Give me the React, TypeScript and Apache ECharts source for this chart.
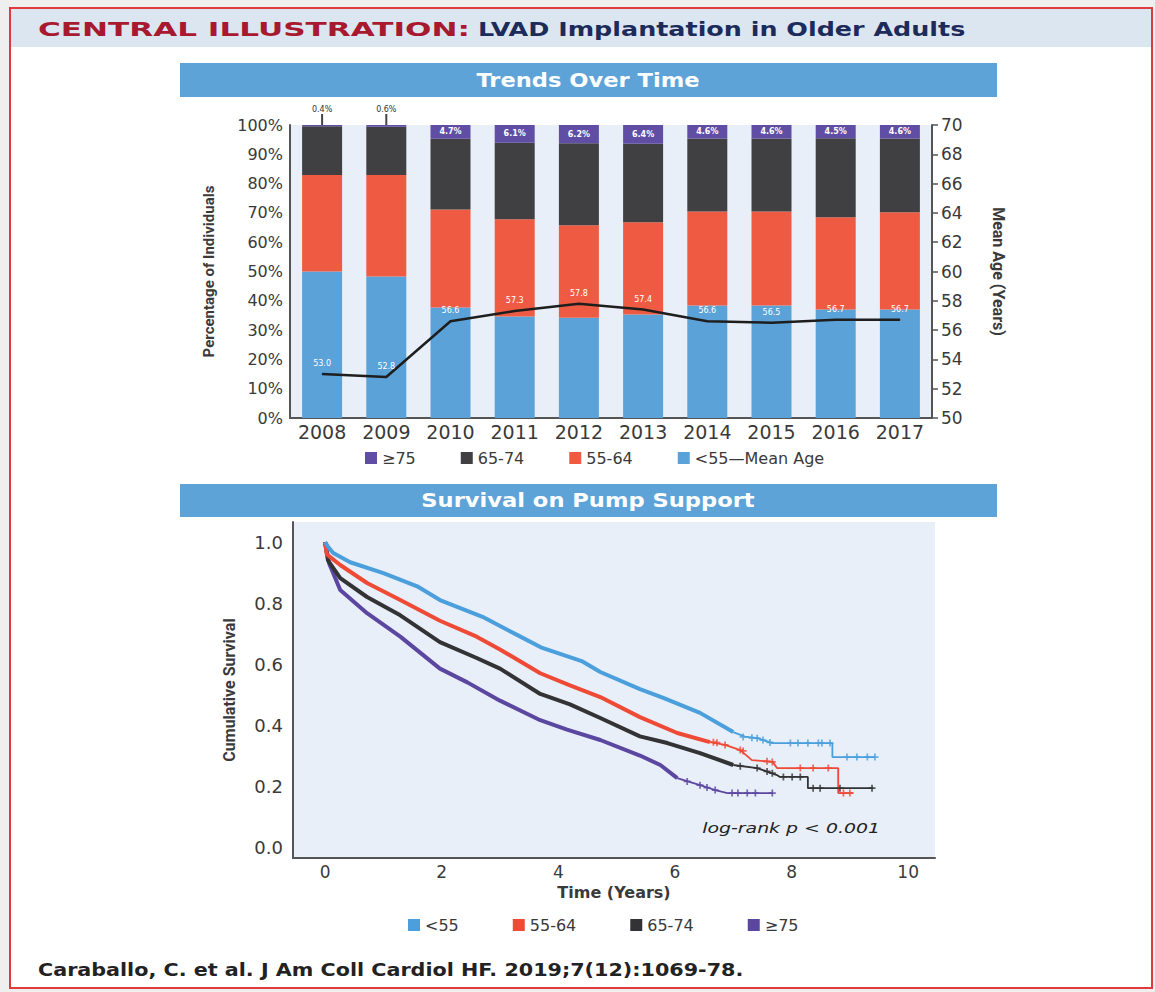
import React, { useEffect, useRef } from 'react';
import * as echarts from 'echarts';

// ---------- Trends Over Time ----------
const years = ['2008', '2009', '2010', '2011', '2012', '2013', '2014', '2015', '2016', '2017'];
const pctUnder55 = [50.0, 48.3, 37.7, 34.6, 34.2, 35.3, 38.4, 38.4, 37.0, 37.0];
const pct55to64 = [32.9, 34.6, 33.5, 33.2, 31.6, 31.5, 32.1, 32.1, 31.5, 33.2];
const pct65to74 = [16.7, 16.5, 24.1, 26.1, 28.0, 26.8, 24.9, 24.9, 27.0, 25.2];
const pct75plus = [0.4, 0.6, 4.7, 6.1, 6.2, 6.4, 4.6, 4.6, 4.5, 4.6];
const meanAge = [53.0, 52.8, 56.6, 57.3, 57.8, 57.4, 56.6, 56.5, 56.7, 56.7];
const pctTicks = [0, 10, 20, 30, 40, 50, 60, 70, 80, 90, 100];

// ---------- Survival on Pump Support (t in years, cumulative survival) ----------
const survUnder55 = [[0, 1], [0.05, 0.985], [0.14, 0.964], [0.43, 0.934], [1.0, 0.898], [1.58, 0.855], [1.97, 0.81], [2.7, 0.755], [3.3, 0.695], [3.7, 0.655], [4.4, 0.61], [4.72, 0.574], [5.4, 0.518], [5.8, 0.489], [6.43, 0.44], [7.0, 0.377]];
const tailUnder55 = [[7.0, 0.377], [7.2, 0.362], [7.41, 0.357], [7.67, 0.341], [8.7, 0.341], [8.7, 0.295], [9.43, 0.295]];
const censUnder55 = [[7.17, 0.361], [7.32, 0.358], [7.41, 0.357], [7.51, 0.351], [7.63, 0.343], [7.98, 0.341], [8.11, 0.341], [8.28, 0.341], [8.46, 0.341], [8.52, 0.341], [8.66, 0.341], [8.95, 0.295], [9.12, 0.295], [9.3, 0.295], [9.43, 0.295]];

const surv55to64 = [[0, 1], [0.03, 0.96], [0.26, 0.925], [0.72, 0.866], [1.29, 0.81], [1.97, 0.742], [2.6, 0.69], [3.0, 0.648], [3.69, 0.57], [4.2, 0.53], [4.72, 0.492], [5.4, 0.426], [6.04, 0.374], [6.6, 0.344]];
const tail55to64 = [[6.6, 0.344], [6.86, 0.335], [7.12, 0.318], [7.32, 0.285], [7.68, 0.279], [7.75, 0.259], [8.8, 0.259], [8.8, 0.177], [9.06, 0.177]];
const cens55to64 = [[6.66, 0.344], [6.72, 0.342], [6.86, 0.335], [7.12, 0.318], [7.17, 0.315], [7.58, 0.281], [7.67, 0.279], [8.15, 0.259], [8.37, 0.259], [8.63, 0.259], [8.89, 0.177], [9.0, 0.177]];

const surv65to74 = [[0, 1], [0.05, 0.94], [0.26, 0.882], [0.72, 0.82], [1.29, 0.76], [1.97, 0.672], [2.6, 0.62], [3.0, 0.585], [3.69, 0.502], [4.2, 0.468], [4.72, 0.423], [5.4, 0.363], [5.87, 0.341], [6.43, 0.308], [7.0, 0.269]];
const tail65to74 = [[7.0, 0.269], [7.41, 0.259], [7.75, 0.236], [7.8, 0.23], [8.28, 0.23], [8.28, 0.193], [9.4, 0.193]];
const cens65to74 = [[7.12, 0.265], [7.41, 0.259], [7.58, 0.248], [7.67, 0.242], [7.86, 0.23], [8.01, 0.23], [8.15, 0.23], [8.37, 0.193], [8.49, 0.193], [8.83, 0.193], [9.38, 0.193]];

const surv75plus = [[0, 1], [0.07, 0.93], [0.26, 0.843], [0.72, 0.767], [1.29, 0.69], [1.97, 0.585], [2.44, 0.54], [3.0, 0.48], [3.69, 0.416], [4.15, 0.385], [4.72, 0.351], [5.4, 0.3], [5.75, 0.269], [6.04, 0.226]];
const tail75plus = [[6.04, 0.226], [6.43, 0.203], [6.69, 0.187], [6.9, 0.177], [7.68, 0.177]];
const cens75plus = [[6.21, 0.215], [6.43, 0.203], [6.55, 0.195], [6.69, 0.187], [6.98, 0.177], [7.08, 0.177], [7.24, 0.177], [7.38, 0.177], [7.67, 0.177]];

const timeTicks = [0, 2, 4, 6, 8, 10];
const survTicks = [0, 0.2, 0.4, 0.6, 0.8, 1.0];

const C = {
  blue: '#5aa2d8',
  red: '#ef5b42',
  dark: '#404042',
  purple: '#5f4ea3',
  kmBlue: '#4a9fdc',
  kmRed: '#ee4a35',
  kmDark: '#333335',
  kmPurple: '#5b46a0',
  text: '#3a3a3a',
  axis: '#555555',
  plotBg: '#e8eff8',
};

const FONT = '"DejaVu Sans", "Noto Sans", sans-serif';
const NARROW = 'Roboto, "Noto Sans", sans-serif';
const plus = 'path://M3,0h2v3h3v2h-3v3h-2v-3h-3v-2h3z';

function buildOption() {
  const pctLabel = (i: number) => {
    if (pct75plus[i] < 2) {
      return {
        value: pct75plus[i],
        label: {
          show: true,
          position: 'top',
          distance: 0,
          formatter: '{v|' + pct75plus[i].toFixed(1) + '%}\n{l| }',
          rich: {
            v: { fontSize: 8, color: '#333', fontFamily: FONT, lineHeight: 10, align: 'center' },
            l: { width: 2, height: 11, backgroundColor: '#444', align: 'center' },
          },
        },
      };
    }
    return {
      value: pct75plus[i],
      label: {
        show: true,
        position: 'inside',
        formatter: pct75plus[i].toFixed(1) + '%',
        color: '#fff',
        fontSize: 8,
        fontWeight: 'bold',
        fontFamily: FONT,
      },
    };
  };

  const kmLine = (name: string, data: number[][], color: string, width: number) => ({
    name,
    type: 'line',
    xAxisIndex: 1,
    yAxisIndex: 2,
    data,
    showSymbol: false,
    symbol: 'none',
    lineStyle: { color, width },
    itemStyle: { color },
    z: 3,
  });
  const kmCens = (name: string, data: number[][], color: string) => ({
    name,
    type: 'scatter',
    xAxisIndex: 1,
    yAxisIndex: 2,
    data,
    symbol: plus,
    symbolSize: 7,
    itemStyle: { color },
    z: 4,
  });

  const txt = (x: number, y: number, text: string, fill: string, font: string, align: string, scaleX = 1) => ({
    type: 'text', x, y, scaleX, z: 5,
    style: { text, fill, font, textAlign: align, textVerticalAlign: 'middle', align, verticalAlign: 'middle' },
  });

  return {
    animation: false,
    backgroundColor: '#efefef',
    textStyle: { fontFamily: FONT },
    graphic: [
      { type: 'rect', z: -10, shape: { x: 10, y: 8, width: 1142, height: 980 }, style: { fill: '#ffffff', stroke: '#e2393c', lineWidth: 2 } },
      { type: 'rect', z: -9, shape: { x: 11, y: 9, width: 1140, height: 38 }, style: { fill: '#dce6f1' } },
      txt(38, 29, 'CENTRAL ILLUSTRATION:', '#a8192f', 'bold 20px ' + FONT, 'left', 1.555),
      txt(478, 29, 'LVAD Implantation in Older Adults', '#1d2b5b', 'bold 20px ' + FONT, 'left', 1.27),
      { type: 'rect', z: -8, shape: { x: 180, y: 63, width: 817, height: 34 }, style: { fill: '#5ea3d8' } },
      txt(588, 80, 'Trends Over Time', '#ffffff', 'bold 20px ' + FONT, 'center', 1.13),
      { type: 'rect', z: -8, shape: { x: 180, y: 484, width: 817, height: 33 }, style: { fill: '#5ea3d8' } },
      txt(588, 500, 'Survival on Pump Support', '#ffffff', 'bold 20px ' + FONT, 'center', 1.13),
      txt(880, 828, 'log-rank p < 0.001', '#222', 'italic 14px ' + FONT, 'right', 1.35),
      txt(38, 970, 'Caraballo, C. et al. J Am Coll Cardiol HF. 2019;7(12):1069-78.', '#222', 'bold 18px ' + FONT, 'left', 1.15),
    ],
    legend: [
      {
        data: ['≥75', '65-74', '55-64', '<55—Mean Age'].map((n, i) => ({ name: n, itemStyle: { color: [C.purple, C.dark, C.red, C.blue][i] } })),
        left: 360, top: 445, icon: 'rect', itemWidth: 12, itemHeight: 12, itemGap: 45,
        textStyle: { fontSize: 16, color: C.text, fontFamily: FONT },
        selectedMode: false,
      },
      {
        data: ['<55', '55-64', '65-74', '≥75'].map((n, i) => ({ name: n, itemStyle: { color: [C.kmBlue, C.kmRed, C.kmDark, C.kmPurple][i] } })),
        left: 403, top: 912, icon: 'rect', itemWidth: 12, itemHeight: 12, itemGap: 54,
        textStyle: { fontSize: 16, color: C.text, fontFamily: FONT },
        selectedMode: false,
      },
    ],
    grid: [
      { left: 290, top: 125, width: 642, height: 293, show: true, backgroundColor: C.plotBg, borderWidth: 0 },
      { left: 293, top: 522, width: 642, height: 336, show: true, backgroundColor: C.plotBg, borderWidth: 0 },
    ],
    xAxis: [
      {
        type: 'category', gridIndex: 0, data: years,
        axisTick: { show: false },
        axisLine: { lineStyle: { color: C.axis, width: 2 } },
        axisLabel: { fontSize: 19, color: C.text, margin: 4, fontFamily: FONT },
      },
      {
        type: 'value', gridIndex: 1, min: -0.55, max: 10.46,
        axisLine: { onZero: false, lineStyle: { color: C.axis, width: 2 } },
        axisTick: { show: false },
        splitLine: { show: false },
        axisLabel: { customValues: timeTicks, fontSize: 17, color: C.text, margin: 5, fontFamily: FONT },
        name: 'Time (Years)', nameLocation: 'middle', nameGap: 26,
        nameTextStyle: { fontSize: 16, fontWeight: 'bold', color: C.text, fontFamily: FONT },
      },
    ],
    yAxis: [
      {
        type: 'value', gridIndex: 0, min: 0, max: 100, interval: 10,
        axisLine: { show: true, lineStyle: { color: C.axis, width: 2 } },
        axisTick: { show: false },
        splitLine: { show: false },
        axisLabel: { formatter: '{value}%', fontSize: 16, color: C.text, margin: 7, fontFamily: FONT, customValues: pctTicks },
        name: 'Percentage of Individuals', nameLocation: 'middle', nameGap: 74, nameRotate: 90,
        nameTextStyle: { fontSize: 15, fontWeight: 'bold', color: C.text, fontFamily: NARROW },
      },
      {
        type: 'value', gridIndex: 0, position: 'right', min: 50, max: 70, interval: 2,
        axisLine: { show: true, lineStyle: { color: C.axis, width: 2 } },
        axisTick: { show: true, length: 6, lineStyle: { color: C.axis, width: 1.5 } },
        splitLine: { show: false },
        axisLabel: { fontSize: 17, color: C.text, margin: 9, fontFamily: FONT },
        name: 'Mean Age (Years)', nameLocation: 'middle', nameGap: 58, nameRotate: -90,
        nameTextStyle: { fontSize: 16, fontWeight: 'bold', color: C.text, fontFamily: NARROW },
      },
      {
        type: 'value', gridIndex: 1, min: -0.036, max: 1.066,
        axisLine: { show: true, onZero: false, lineStyle: { color: C.axis, width: 2 } },
        axisTick: { show: false },
        splitLine: { show: false },
        axisLabel: { customValues: survTicks, formatter: (v: number) => v.toFixed(1), fontSize: 18, color: C.text, margin: 10, fontFamily: FONT },
        name: 'Cumulative Survival', nameLocation: 'middle', nameGap: 56, nameRotate: 90,
        nameTextStyle: { fontSize: 16, fontWeight: 'bold', color: C.text, fontFamily: NARROW },
      },
    ],
    series: [
      { name: '<55—Mean Age', type: 'bar', stack: 'age', xAxisIndex: 0, yAxisIndex: 0, barWidth: 40, data: pctUnder55, itemStyle: { color: C.blue } },
      { name: '55-64', type: 'bar', stack: 'age', xAxisIndex: 0, yAxisIndex: 0, barWidth: 40, data: pct55to64, itemStyle: { color: C.red } },
      { name: '65-74', type: 'bar', stack: 'age', xAxisIndex: 0, yAxisIndex: 0, barWidth: 40, data: pct65to74, itemStyle: { color: C.dark } },
      { name: '≥75', type: 'bar', stack: 'age', xAxisIndex: 0, yAxisIndex: 0, barWidth: 40, data: pct75plus.map((_, i) => pctLabel(i)), itemStyle: { color: C.purple } },
      {
        name: 'Mean Age', type: 'line', xAxisIndex: 0, yAxisIndex: 1, data: meanAge,
        symbol: 'circle', symbolSize: 1, showSymbol: true,
        lineStyle: { color: '#1e1e1e', width: 2.5 },
        itemStyle: { color: '#1e1e1e' },
        label: { show: true, position: 'top', distance: 6, color: '#fff', fontSize: 8, fontFamily: FONT, formatter: (p: any) => Number(p.value).toFixed(1) },
        labelLayout: { hideOverlap: false },
        z: 5,
      },
      kmLine('≥75', surv75plus, C.kmPurple, 4),
      kmLine('≥75', tail75plus, C.kmPurple, 1.8),
      kmCens('≥75', cens75plus, C.kmPurple),
      kmLine('65-74', surv65to74, C.kmDark, 4),
      kmLine('65-74', tail65to74, C.kmDark, 1.8),
      kmCens('65-74', cens65to74, C.kmDark),
      kmLine('55-64', surv55to64, C.kmRed, 4),
      kmLine('55-64', tail55to64, C.kmRed, 1.8),
      kmCens('55-64', cens55to64, C.kmRed),
      kmLine('<55', survUnder55, C.kmBlue, 4),
      kmLine('<55', tailUnder55, C.kmBlue, 1.8),
      kmCens('<55', censUnder55, C.kmBlue),
    ],
  };
}

export default function App() {
  const ref = useRef<HTMLDivElement>(null);
  useEffect(() => {
    if (!ref.current) return;
    const chart = echarts.init(ref.current, undefined, { renderer: 'svg' });
    chart.setOption(buildOption() as any);
    return () => chart.dispose();
  }, []);
  return <div ref={ref} style={{ position: 'absolute', left: 0, top: 0, width: 1155, height: 992 }} />;
}
